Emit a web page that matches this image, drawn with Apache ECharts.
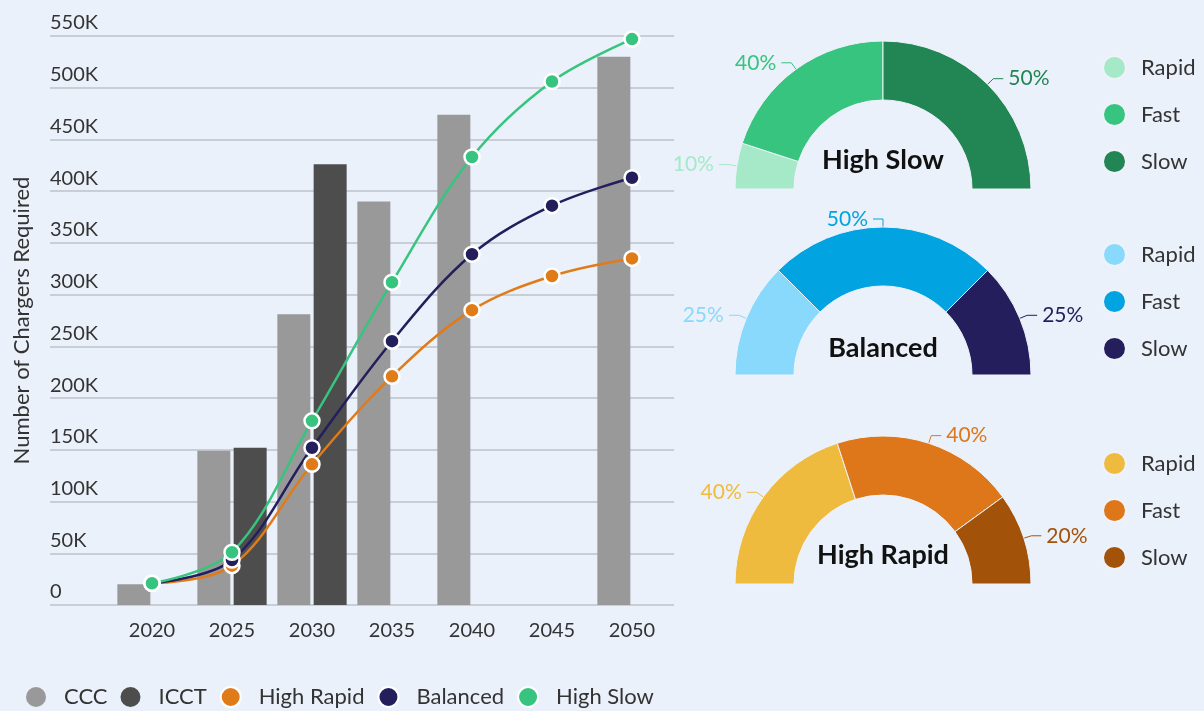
<!DOCTYPE html>
<html>
<head>
<meta charset="utf-8">
<script src="https://cdn.jsdelivr.net/npm/echarts@6/dist/echarts.min.js"></script>
<style>
    html, body { margin: 0; padding: 0; background: #ebf1fa; }
    #main { width: 1204px; height: 711px; }
</style>
</head>
<body>
<div id="main"></div>
<script>
    // chargers required by year
    var years = ['2020', '2025', '2030', '2035', '2040', '2045', '2050'];
    var ccc = [20000, 149000, 281000, 390000, 474000, null, 530000];
    var icct = [null, 152000, 426000, null, null, null, null];
    var highRapid = [21000, 38000, 136000, 221000, 285000, 318000, 335000];
    var balanced = [21000, 43500, 152000, 255000, 339000, 386000, 413000];
    var highSlow = [21000, 51000, 178000, 312000, 433000, 506000, 547000];

    // charger mix per scenario (%)
    var mixNames = ['Rapid', 'Fast', 'Slow'];
    var highSlowMix = [10, 40, 50];
    var balancedMix = [25, 50, 25];
    var highRapidMix = [40, 40, 20];

    var highSlowColors = ['#a6e9c8', '#37c47f', '#228554'];
    var balancedColors = ['#88d9fb', '#02a3e1', '#241f5c'];
    var highRapidColors = ['#efbb3e', '#de7719', '#a3520a'];

    var font = 'Lato';
    var textColor = '#333';

    function mixData(values, colors) {
        return mixNames.map(function (n, i) {
            return {name: n, value: values[i], itemStyle: {color: colors[i]}, label: {color: colors[i]}};
        });
    }

    function mixLegend(top, colors) {
        return {
            orient: 'vertical',
            left: 1102,
            top: top,
            padding: 0,
            icon: 'circle',
            itemWidth: 23,
            itemHeight: 23,
            itemGap: 22,
            selectedMode: false,
            textStyle: {fontSize: 22, color: textColor, fontFamily: font, padding: [0, 0, 0, 10]},
            data: mixNames.map(function (n, i) {
                return {name: n, itemStyle: {color: colors[i]}};
            })
        };
    }

    function mixPie(name, cy, values, colors) {
        return {
            name: name,
            type: 'pie',
            center: [883, cy],
            radius: [89, 148],
            startAngle: 180,
            endAngle: 0,
            silent: true,
            itemStyle: {borderColor: '#eef3fa', borderWidth: 1},
            label: {formatter: '{c}%', fontSize: 21, fontFamily: font},
            labelLine: {length: 8, length2: 10, lineStyle: {width: 1}},
            data: mixData(values, colors)
        };
    }

    function lineSeries(name, data, color) {
        return {
            name: name,
            type: 'line',
            xAxisIndex: 1,
            yAxisIndex: 1,
            data: data,
            smooth: 0.35,
            symbol: 'circle',
            symbolSize: 15,
            lineStyle: {width: 2.5, color: color},
            itemStyle: {color: color, borderColor: '#fff', borderWidth: 2.5}
        };
    }

    function title(text, y) {
        return {
            type: 'text', x: 883, y: y,
            style: {text: text, font: 'bold 27px Lato', fill: '#111', align: 'center', verticalAlign: 'middle'}
        };
    }

    var chart = echarts.init(document.getElementById('main'));

    var option = {
        backgroundColor: '#ebf1fa',
        animation: false,
        textStyle: {fontFamily: font},
        grid: [
            {left: 50, right: 530, top: 36, bottom: 106},
            {left: 112, right: 532, top: 36, bottom: 106}
        ],
        xAxis: [
            {gridIndex: 0, type: 'value', show: false, min: 0, max: 1},
            {
                gridIndex: 1,
                type: 'category',
                data: years,
                axisLine: {show: false},
                axisTick: {show: false},
                axisLabel: {fontSize: 20, color: textColor, margin: 16}
            }
        ],
        yAxis: [
            {
                gridIndex: 0,
                type: 'value',
                min: 0,
                max: 550000,
                interval: 50000,
                name: 'Number of Chargers Required',
                nameLocation: 'middle',
                nameGap: 17,
                nameTextStyle: {fontSize: 22, color: textColor},
                axisLine: {show: false},
                axisTick: {show: false},
                axisLabel: {
                    inside: true,
                    margin: 0,
                    fontSize: 20,
                    color: textColor,
                    verticalAlign: 'bottom',
                    padding: [0, 0, 3, 0],
                    formatter: function (v) {
                        return v === 0 ? '0' : (v / 1000) + 'K';
                    }
                },
                splitLine: {lineStyle: {color: '#c9cdd5', width: 2}}
            },
            {gridIndex: 1, type: 'value', min: 0, max: 550000, show: false}
        ],
        legend: [
            {
                left: 26,
                top: 686,
                padding: 0,
                icon: 'circle',
                itemWidth: 20,
                itemHeight: 20,
                itemGap: 13,
                selectedMode: false,
                textStyle: {fontSize: 22, color: textColor, padding: [0, 0, 0, 13]},
                data: ['CCC', 'ICCT', 'High Rapid', 'Balanced', 'High Slow']
            },
            mixLegend(55, highSlowColors),
            mixLegend(242, balancedColors),
            mixLegend(451, highRapidColors)
        ],
        graphic: [
            title('High Slow', 160),
            title('Balanced', 348),
            title('High Rapid', 555)
        ],
        series: [
            {name: 'CCC', type: 'bar', xAxisIndex: 1, yAxisIndex: 1, data: ccc, barWidth: 33, barGap: '10%', itemStyle: {color: '#999999'}},
            {name: 'ICCT', type: 'bar', xAxisIndex: 1, yAxisIndex: 1, data: icct, barWidth: 33, barGap: '10%', itemStyle: {color: '#4d4d4d'}},
            lineSeries('High Rapid', highRapid, '#e07b1a'),
            lineSeries('Balanced', balanced, '#231f5c'),
            lineSeries('High Slow', highSlow, '#37c47f'),
            mixPie('High Slow Mix', 189, highSlowMix, highSlowColors),
            mixPie('Balanced Mix', 375, balancedMix, balancedColors),
            mixPie('High Rapid Mix', 584, highRapidMix, highRapidColors)
        ]
    };

    chart.setOption(option);
</script>
</body>
</html>
